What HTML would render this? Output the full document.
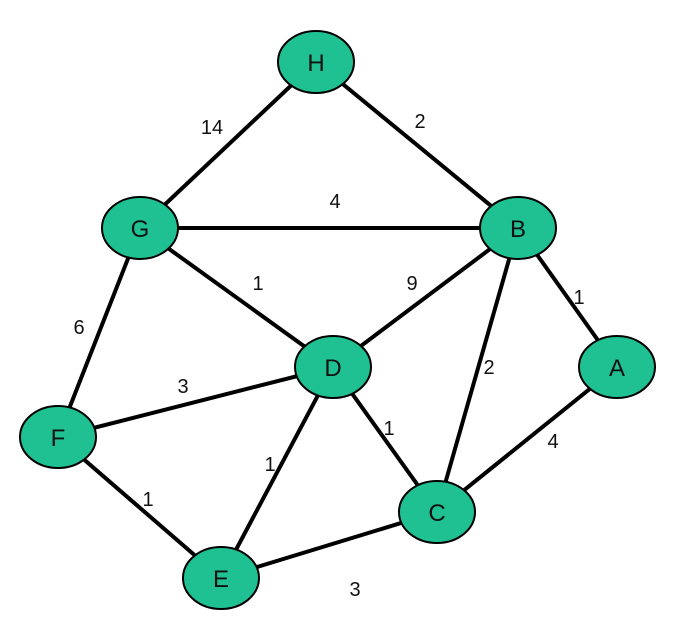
<!DOCTYPE html>
<html><head><style>body{margin:0;background:#fff}svg{display:block}</style></head><body>
<svg width="675" height="629" viewBox="0 0 675 629" xmlns="http://www.w3.org/2000/svg">
<g stroke="#000" stroke-width="4">
<line x1="316" y1="62" x2="140" y2="228"/>
<line x1="316" y1="62" x2="518" y2="228"/>
<line x1="140" y1="228" x2="518" y2="228"/>
<line x1="140" y1="228" x2="333" y2="367"/>
<line x1="140" y1="228" x2="58" y2="437"/>
<line x1="518" y1="228" x2="333" y2="367"/>
<line x1="518" y1="228" x2="617" y2="367"/>
<line x1="518" y1="228" x2="437" y2="512"/>
<line x1="333" y1="367" x2="58" y2="437"/>
<line x1="333" y1="367" x2="437" y2="512"/>
<line x1="333" y1="367" x2="221" y2="578"/>
<line x1="617" y1="367" x2="437" y2="512"/>
<line x1="58" y1="437" x2="221" y2="578"/>
<line x1="221" y1="578" x2="437" y2="512"/>
</g>
<g fill="#1fc193" stroke="#000" stroke-width="2">
<ellipse cx="316" cy="62" rx="38" ry="31"/>
<ellipse cx="140" cy="228" rx="38" ry="31"/>
<ellipse cx="518" cy="228" rx="38" ry="31"/>
<ellipse cx="333" cy="367" rx="38" ry="31"/>
<ellipse cx="617" cy="367" rx="38" ry="31"/>
<ellipse cx="58" cy="437" rx="38" ry="31"/>
<ellipse cx="437" cy="512" rx="38" ry="31"/>
<ellipse cx="221" cy="578" rx="38" ry="31"/>
</g>
<g font-family="Liberation Sans, sans-serif" font-size="24" text-anchor="middle" fill="#111">
<text x="316" y="71">H</text>
<text x="140" y="237">G</text>
<text x="518" y="237">B</text>
<text x="333" y="376">D</text>
<text x="617" y="376">A</text>
<text x="58" y="446">F</text>
<text x="437" y="521">C</text>
<text x="221" y="587">E</text>
</g>
<g font-family="Liberation Sans, sans-serif" font-size="20" text-anchor="middle" fill="#111">
<text x="212" y="134">14</text>
<text x="420" y="128">2</text>
<text x="335" y="208">4</text>
<text x="258" y="290">1</text>
<text x="412" y="290">9</text>
<text x="579" y="304">1</text>
<text x="79" y="334">6</text>
<text x="489" y="374">2</text>
<text x="183" y="393">3</text>
<text x="389" y="435">1</text>
<text x="553" y="448">4</text>
<text x="270" y="471">1</text>
<text x="148" y="506">1</text>
<text x="355" y="596">3</text>
</g>
</svg>
</body></html>
